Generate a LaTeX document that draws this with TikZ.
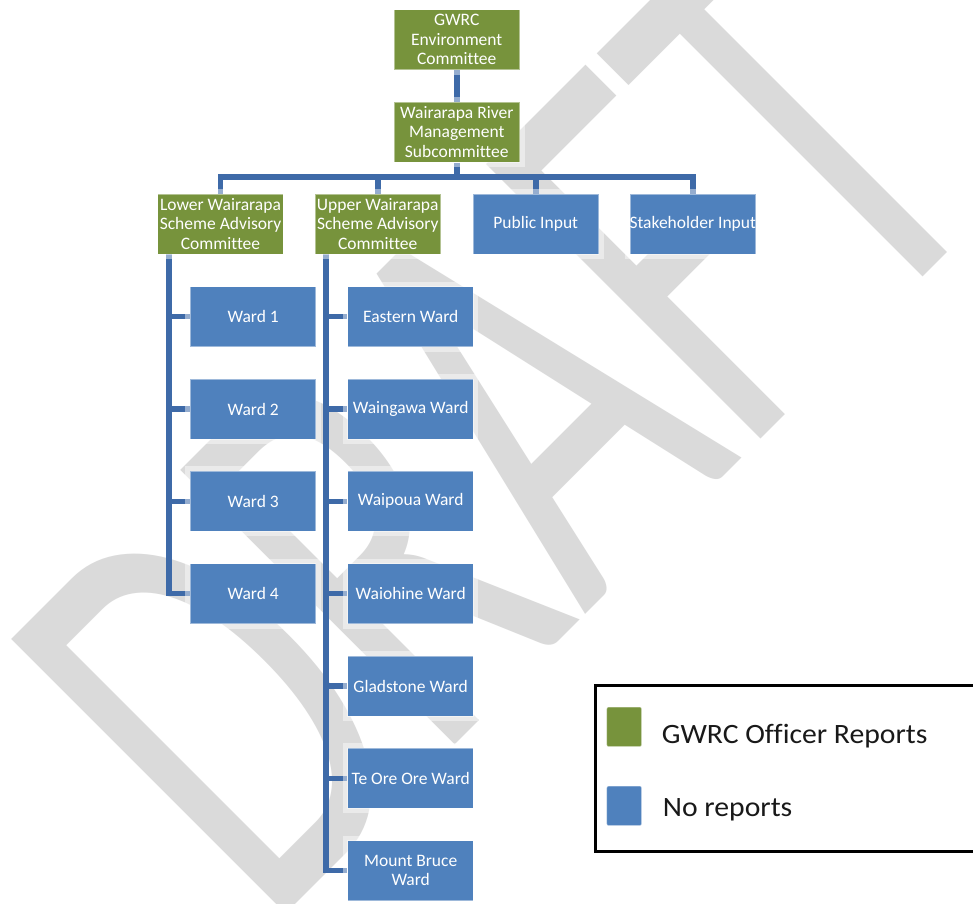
\documentclass[tikz,border=0pt]{standalone}
\usepackage{fontspec}
\setmainfont{Carlito}[Ligatures=NoCommon]
\definecolor{boxgreen}{HTML}{77933C}
\definecolor{boxblue}{HTML}{4F81BD}
\definecolor{linkblue}{RGB}{62,106,168}
\definecolor{wmgray}{RGB}{218,218,218}
\pgfdeclarelayer{bg}
\pgfdeclarelayer{wm}
\pgfdeclarelayer{links}
\pgfsetlayers{bg,wm,links,main}
\tikzset{
  orgbox/.style={rectangle, minimum width=125.5pt, minimum height=60pt, inner sep=0pt,
    text=white, align=center, font=\fontsize{17.5}{19.4}\selectfont,
    preaction={draw=white, line width=10pt},
    draw=white, draw opacity=0.45, line width=1pt},
  greenbox/.style={orgbox, fill=boxgreen},
  bluebox/.style={orgbox, fill=boxblue},
  link/.style={draw=linkblue, line width=5.5pt},
  legsq/.style={rectangle, rounded corners=2pt, minimum width=35pt, minimum height=39.7pt,
    inner sep=0pt, draw=white, draw opacity=0.4, line width=1pt},
  legtext/.style={inner sep=0pt, anchor=base west, text=black!90,
    font=\fontsize{28}{30}\selectfont}
}
\begin{document}
\begin{tikzpicture}[x=1pt,y=-1pt]
\useasboundingbox (0,0) rectangle (973,903);
\begin{pgfonlayer}{bg}
\fill[white] (0,0) rectangle (973,903);
\end{pgfonlayer}

\begin{pgfonlayer}{wm}
\begin{scope}
\clip (0,0) rectangle (973,903);
\node[rotate=45, anchor=base west, inner sep=0pt, text=wmgray] (wm) at (267,933)
  {\scalebox{0.64}[1]{\fontsize{605}{605}\selectfont DRAFT}};
\end{scope}
\end{pgfonlayer}

% level 0 and 1
\node[greenbox] (env) at (456.75,39.5) {GWRC\\Environment\\Committee};
\node[greenbox] (sub) at (456.75,132) {Wairarapa River\\Management\\Subcommittee};

% level 2
\node[greenbox] (lower) at (220.5,224) {Lower Wairarapa\\Scheme Advisory\\Committee};
\node[greenbox] (upper) at (377.75,224) {Upper Wairarapa\\Scheme Advisory\\Committee};
\node[bluebox] (public) at (535.75,224) {Public Input};
\node[bluebox] (stake) at (692.75,224) {\makebox[0pt]{Stakeholder Input}};

% lower wards
\node[bluebox] (lw1) at (253.2,316.7) {Ward 1};
\node[bluebox] (lw2) at (253.2,409.0) {Ward 2};
\node[bluebox] (lw3) at (253.2,501.3) {Ward 3};
\node[bluebox] (lw4) at (253.2,593.6) {Ward 4};

% upper wards
\node[bluebox] (uw1) at (410.7,316.7) {Eastern Ward};
\node[bluebox] (uw2) at (410.7,409.0) {Waingawa Ward};
\node[bluebox] (uw3) at (410.7,501.3) {Waipoua Ward};
\node[bluebox] (uw4) at (410.7,593.6) {Waiohine Ward};
\node[bluebox] (uw5) at (410.7,686.0) {Gladstone Ward};
\node[bluebox] (uw6) at (410.7,778.3) {Te Ore Ore Ward};
\node[bluebox] (uw7) at (410.7,870.6) {Mount Bruce\\Ward};

\begin{pgfonlayer}{links}
\draw[link] (env.south) -- (sub.north);
\coordinate (bary) at (0,177);
\draw[link] (lower.north) -- (lower.north |- bary) -| (stake.north);
\draw[link] (sub.south) -- (sub.south |- bary);
\draw[link] (upper.north) -- (upper.north |- bary);
\draw[link] (public.north) -- (public.north |- bary);
\coordinate (lvtop) at (169,254);
\draw[link] (lvtop) |- (lw4.west);
\foreach \i in {1,2,3} \draw[link] (lvtop |- lw\i.west) -- (lw\i.west);
\coordinate (uvtop) at (326,254);
\draw[link] (uvtop) |- (uw7.west);
\foreach \i in {1,...,6} \draw[link] (uvtop |- uw\i.west) -- (uw\i.west);
\end{pgfonlayer}

% legend
\node[draw=black, line width=3pt, fill=white, rectangle, inner sep=0pt,
  minimum width=410pt, minimum height=166pt, anchor=north west] (legend) at (594,684) {};
\node[legsq, fill=boxgreen] (lg1) at (624.2,726.85) {};
\node[legsq, fill=boxblue] (lg2) at (624.2,805.85) {};
\node[legtext] (lt1) at (661.7,743) {\scalebox{1.06}[1]{GWRC Officer Reports}};
\node[legtext] (lt2) at (662.7,816.7) {\scalebox{1.06}[1]{No reports}};
\end{tikzpicture}
\end{document}
